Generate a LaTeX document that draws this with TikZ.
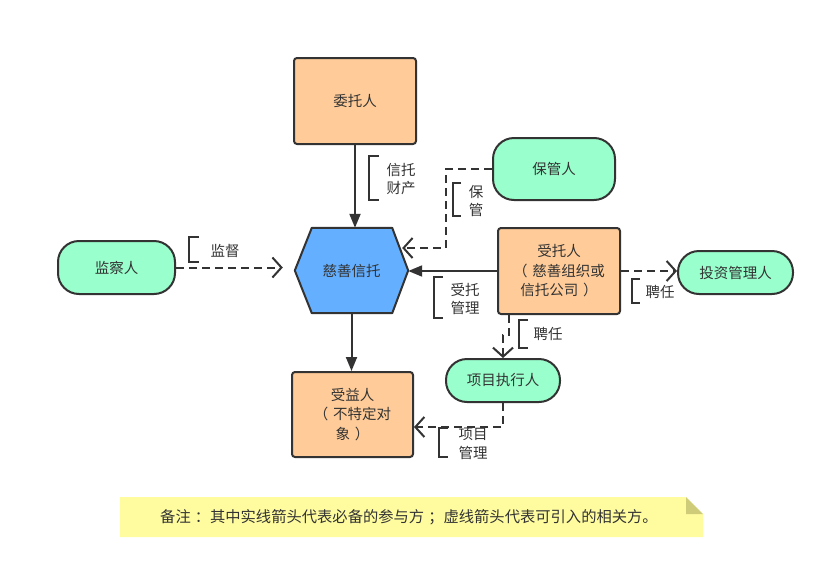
\documentclass[tikz,border=0pt]{standalone}
\usepackage{fontspec}
\setmainfont{Noto Sans CJK SC}
\usetikzlibrary{arrows.meta,calc}
\definecolor{peach}{RGB}{255,204,153}
\definecolor{mint}{RGB}{153,255,204}
\definecolor{skyb}{RGB}{100,175,255}
\definecolor{notey}{RGB}{255,252,160}
\definecolor{foldc}{RGB}{206,204,120}
\definecolor{ink}{RGB}{51,51,51}
\begin{document}
\begin{tikzpicture}[x=1pt,y=-1pt,
  txt/.style={font=\fontsize{14.5}{19.5}\selectfont, text=ink, align=center},
  box/.style={txt, draw=ink, line width=2pt, fill=peach, rounded corners=3pt, minimum width=122pt, minimum height=86pt, inner sep=0pt},
  pill/.style={txt, draw=ink, line width=2pt, fill=mint, rounded corners=21pt, inner sep=0pt},
  lab/.style={txt, inner sep=0pt, font=\fontsize{14.5}{18.5}\selectfont},
  brk/.style={draw=ink, line width=2pt},
  solidarr/.style={draw=ink, line width=2pt, -{Triangle[length=14pt,width=11pt]}},
  dasharr/.style={draw=ink, line width=2pt, dash pattern=on 8pt off 5pt, -{Straight Barb[length=9pt,width=20pt]}}
]
\useasboundingbox (0,0) rectangle (831,576);

% nodes
\node[box] (client) at (355,101) {委托人};
\node[minimum width=113pt, minimum height=85pt, inner sep=0pt] (trust) at (351.5,270.5) {};
\filldraw[fill=skyb, draw=ink, line width=2pt, line join=round]
  (trust.west) -- ([xshift=17pt]trust.north west) -- ([xshift=-16pt]trust.north east)
  -- (trust.east) -- ([xshift=-16pt]trust.south east) -- ([xshift=17pt]trust.south west) -- cycle;
\node[txt] (trusttext) at (trust.center) {慈善信托};
\node[pill, minimum width=122pt, minimum height=62pt] (cust) at (554,169) {保管人};
\node[box] (trustee) at (559,271) {受托人\\（\hspace{5pt}慈善组织或\\信托公司\hspace{5pt}）};
\node[pill, minimum width=117pt, minimum height=53pt] (sup) at (116.5,267.5) {监察人};
\node[pill, minimum width=115pt, minimum height=43pt] (invest) at (735.5,272.5) {投资管理人};
\node[pill, minimum width=114pt, minimum height=43pt] (exec) at (503,380.5) {项目执行人};
\node[box, minimum width=121pt, minimum height=85pt] (benef) at (352.5,414.5) {受益人\\（\hspace{5pt}不特定对\\象\hspace{5pt}）};

% connectors
\draw[solidarr] (client.south) -- (client.south |- trust.north);
\draw[solidarr] (trust.south) -- (trust.south |- benef.north);
\draw[solidarr] (trustee.west) -- (trustee.west -| trust.east);
\draw[dasharr] (cust.west) -- ++(-46,0) |- ([xshift=-6pt,yshift=22.5pt]trust.east);
\draw[dasharr] (sup.east) -- ($(sup.east -| trust.west)+(-12,0)$);
\draw[dasharr] (trustee.east) -- (trustee.east -| invest.west);
\draw[dasharr] ([xshift=12pt]trustee.south west) -- ++(0,20) -| (exec.north);
\draw[dasharr] (exec.south) |- ([yshift=-12.5pt]benef.east);

% labels
\draw[brk] (379,156) -- (369,156) -- (369,200) -- (379,200);
\node[lab] (l1) at (401,179) {信托\\财产};
\draw[brk] (461,183) -- (453,183) -- (453,216) -- (461,216);
\node[lab] (l2) at (476,201) {保\\管};
\draw[brk] (199,237) -- (189,237) -- (189,262) -- (199,262);
\node[lab] (l3) at (225,251) {监督};
\draw[brk] (443,277) -- (434,277) -- (434,318) -- (443,318);
\node[lab] (l4) at (465,299) {受托\\管理};
\draw[brk] (640,279) -- (632,279) -- (632,303) -- (640,303);
\node[lab] (l5) at (660,292) {聘任};
\draw[brk] (528,320) -- (519,320) -- (519,348) -- (528,348);
\node[lab] (l6) at (548,334) {聘任};
\draw[brk] (448,428) -- (439,428) -- (439,457) -- (448,457);
\node[lab] (l7) at (473,444) {项目\\管理};

% note
\fill[notey] (120,497) -- (686,497) -- (703,514) -- (703,537) -- (120,537) -- cycle;
\fill[foldc] (686,497) -- (703,514) -- (686,514) -- cycle;
\node[lab, font=\fontsize{15.3}{18}\selectfont] (note) at (409,517) {备注\hspace{4pt}：其中实线箭头代表必备的参与方\hspace{4pt}；虚线箭头代表可引入的相关方。};
\end{tikzpicture}
\end{document}
